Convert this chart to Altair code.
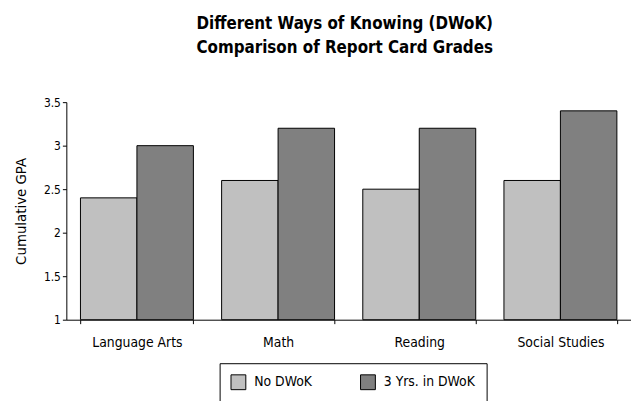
import altair as alt
import pandas as pd

subjects = ["Language Arts", "Math", "Reading", "Social Studies"]
series = ["No DWoK", "3 Yrs. in DWoK"]
no_dwok = [2.4, 2.6, 2.5, 2.6]
three_yrs = [3.0, 3.2, 3.2, 3.4]
colors = ["#c0c0c0", "#808080"]
y_ticks = [1, 1.5, 2, 2.5, 3, 3.5]

rows = []
for i, s in enumerate(subjects):
    rows.append({"subject": s, "group": series[0], "order": 0, "gpa": no_dwok[i]})
    rows.append({"subject": s, "group": series[1], "order": 1, "gpa": three_yrs[i]})
df = pd.DataFrame(rows)

FONT = "Liberation Sans Narrow, DejaVu Sans Condensed, Roboto, sans-serif"

chart = alt.Chart(df).mark_bar(stroke="black", strokeWidth=1).encode(
    x=alt.X("subject:N", sort=subjects, title=None,
            scale=alt.Scale(paddingInner=0.2, paddingOuter=0.1),
            axis=alt.Axis(labelAngle=0, labelFontSize=14, labelPadding=12,
                          tickSize=4, tickBand="extent", domainColor="black",
                          tickColor="black", labelColor="black", labelFont=FONT)),
    xOffset=alt.XOffset("order:O"),
    y=alt.Y("gpa:Q", title="Cumulative GPA",
            scale=alt.Scale(domain=[1, 3.5], zero=False, nice=False),
            axis=alt.Axis(values=y_ticks, format="~g", grid=False, tickSize=4,
                          labelFontSize=12, labelFont=FONT, titleFont=FONT,
                          titleFontSize=15, titleFontWeight="normal", titlePadding=15,
                          domainColor="black", tickColor="black",
                          labelColor="black", titleColor="black")),
    y2=alt.datum(1),
    fill=alt.Color("group:N", sort=series,
                   scale=alt.Scale(domain=series, range=colors),
                   legend=alt.Legend(title=None, orient="none", legendX=155, legendY=264,
                                     direction="horizontal", symbolType="square",
                                     symbolSize=225, symbolStrokeColor="black",
                                     symbolStrokeWidth=1, labelFontSize=14, labelFont=FONT,
                                     labelColor="black", strokeColor="black", padding=11,
                                     columnPadding=46, labelOffset=8)),
).properties(
    width=571,
    height=220,
    title=alt.TitleParams(["Different Ways of Knowing (DWoK)", "Comparison of Report Card Grades"],
                          font=FONT, fontSize=17, fontWeight="bold", color="black",
                          anchor="middle", offset=40, lineHeight=24, dx=-4),
    autosize=alt.AutoSizeParams(type="none"),
    padding={"left": 59, "top": 93, "right": 0, "bottom": 80},
).configure_view(stroke=None)

chart.save("out.html", embed_options={"renderer": "svg", "actions": False})
